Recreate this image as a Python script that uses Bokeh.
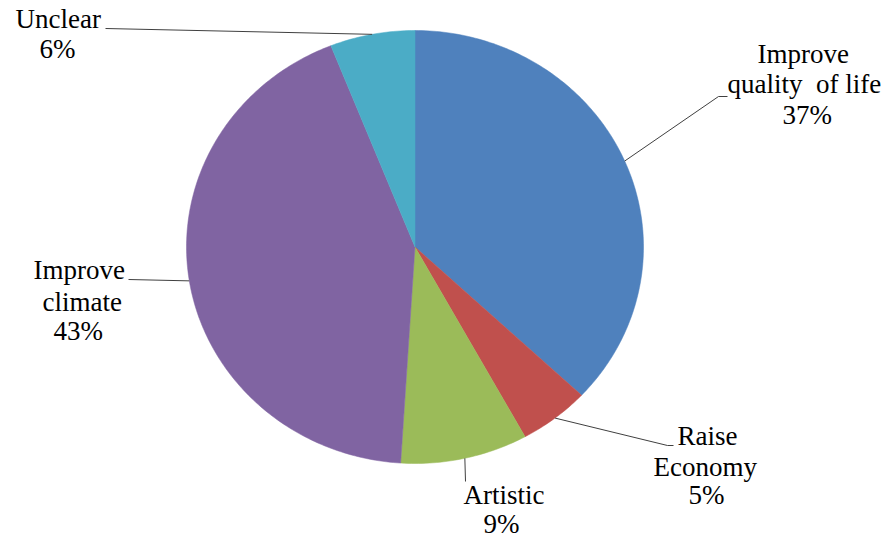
import math
from bokeh.plotting import figure
from bokeh.models import Range1d
from bokeh.core.properties import value
from bokeh.embed import file_html
from bokeh.resources import INLINE

# ---- data ----
categories = ["Improve quality of life", "Raise Economy", "Artistic", "Improve climate", "Unclear"]
label_lines = [["Improve", "quality\u00a0 of life"], ["Raise", "Economy"], ["Artistic"], ["Improve", "climate"], ["Unclear"]]
percents = [37, 5, 9, 43, 6]
colors = ["#4F81BD", "#C0504D", "#9BBB59", "#8064A2", "#4BACC6"]

# ---- layout ----
W, H = 882, 539
CX, CY, RX, RY = 414.5, 246.5, 228.5, 216.5
# per-line left x and baseline y of every label line (incl. the percentage line)
line_xy = [
    [(757, 63), (727, 93), (782, 124)],
    [(677, 445), (653, 476), (688, 504)],
    [(463, 504), (483, 533)],
    [(33, 279), (42, 311), (53, 340)],
    [(15, 28), (39, 58)],
]
BASE_SHIFT = 10  # renderer places the text ~10px below the requested baseline
elbows = [[(718, 96), (727, 96)], [(667, 445), (673, 445)], [(465, 481)], [(128, 279)], [(105, 28)]]

p = figure(width=W, height=H, output_backend="svg", toolbar_location=None,
           x_range=Range1d(0, W), y_range=Range1d(H, 0), min_border=0)
p.axis.visible = False
p.grid.visible = False
p.outline_line_alpha = 0

total = sum(percents)
start = 0.0
mids = []
for v, c in zip(percents, colors):
    a0 = start / total * 2 * math.pi
    a1 = (start + v) / total * 2 * math.pi
    n = max(8, int(v * 4))
    px, py = [CX], [CY]
    for i in range(n + 1):
        a = a0 + (a1 - a0) * i / n
        px.append(CX + RX * math.sin(a))
        py.append(CY - RY * math.cos(a))
    p.patch(px, py, fill_color=c, line_color=c, line_width=0.5)
    mids.append((a0 + a1) / 2)
    start += v

# leader lines
for m, el in zip(mids, elbows):
    sx = CX + RX * math.sin(m)
    sy = CY - RY * math.cos(m)
    p.line([sx] + [e[0] for e in el], [sy] + [e[1] for e in el], line_color="#404040", line_width=1)

# labels
tx, ty, tt = [], [], []
for lines, pct, pos in zip(label_lines, percents, line_xy):
    all_lines = lines + [f"{pct}%"]
    for t, (x, y) in zip(all_lines, pos):
        tx.append(x)
        ty.append(y - BASE_SHIFT)
        tt.append(t)
p.text(tx, ty, text=tt, text_baseline="alphabetic",
       text_font=value("Liberation Serif"), text_font_size="27px")

open("out.html", "w").write(file_html(p, INLINE))
